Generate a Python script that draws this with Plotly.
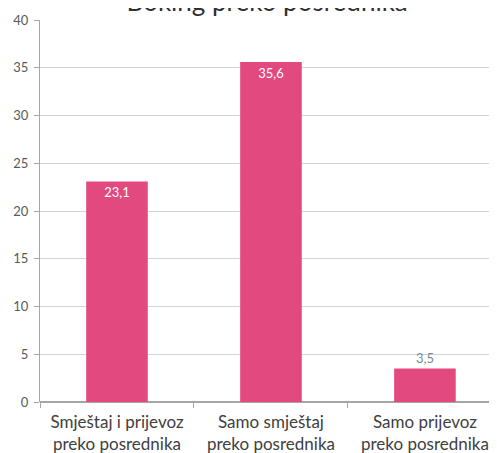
import plotly.graph_objects as go

categories = ["Smještaj i prijevoz<br>preko posrednika",
              "Samo smještaj<br>preko posrednika",
              "Samo prijevoz<br>preko posrednika"]
values = [23.1, 35.6, 3.5]
y_ticks = [0, 5, 10, 15, 20, 25, 30, 35, 40]
title_text = "Boking preko posrednika"

labels = [f"{v:.1f}".replace(".", ",") for v in values]

fig = go.Figure(go.Bar(
    x=categories, y=values, width=0.4,
    marker=dict(color="#E2497E", line=dict(width=0)),
    text=labels,
    textposition=["inside", "inside", "outside"],
    insidetextanchor="end",
    textfont=dict(family="Lato", size=13, color=["#ffffff", "#ffffff", "#7a8899"]),
    cliponaxis=False,
))

fig.update_layout(
    width=489, height=445,
    margin=dict(l=32, r=0, t=12, b=51, autoexpand=False),
    plot_bgcolor="white", paper_bgcolor="white",
    font=dict(family="Lato", color="#404040"),
    showlegend=False,
    title=dict(text=title_text, x=0.53, xanchor="center", xref="container",
               y=1, yref="paper", yanchor="bottom", pad=dict(b=9),
               font=dict(family="Lato", size=26, color="#303030")),
    xaxis=dict(type="category", range=[-0.5, 2.468], tickson="boundaries",
               ticks="outside", ticklen=5, tickcolor="#a6a6a6",
               showline=False, showgrid=False, automargin=False,
               ticklabelstandoff=8,
               tickfont=dict(family="Lato", size=17, color="#404040")),
    yaxis=dict(range=[0, 40], tickvals=y_ticks, ticks="outside", ticklen=5,
               tickcolor="#a6a6a6", showline=True, linecolor="#a6a6a6",
               gridcolor="#d4d4d4", zeroline=True, zerolinecolor="#a6a6a6",
               automargin=False, ticklabelstandoff=3,
               tickfont=dict(family="Lato", size=13, color="#595959")),
)

fig.write_html("out.html")
